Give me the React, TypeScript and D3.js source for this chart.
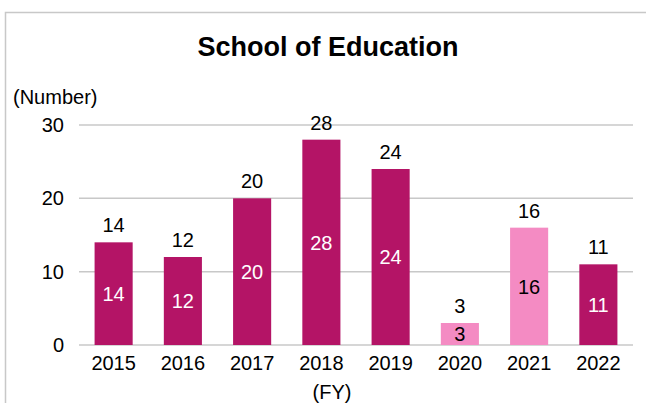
import React from "react";
import * as d3 from "d3";

const years = ["2015", "2016", "2017", "2018", "2019", "2020", "2021", "2022"];
const counts = [14, 12, 20, 28, 24, 3, 16, 11];
const highlight = [false, false, false, false, false, true, true, false];
const yTicks = [0, 10, 20, 30];

const W = 646;
const H = 403;
const FONT = "'Liberation Sans', Arial, sans-serif";
const DARK = "#B41466";
const LIGHT = "#F48BC3";

export default function App() {
  const x = d3.scaleBand<string>().domain(years).range([79, 633]).paddingInner(0.45).paddingOuter(0.225);
  const y = d3.scaleLinear().domain([0, 30]).range([345, 125]);
  const fs = 20;
  return (
    <svg width={W} height={H} style={{ position: "absolute", left: 0, top: 0, background: "#fff" }} fontFamily={FONT}>
      <rect x={5.5} y={12.5} width={W + 10} height={H + 10} fill="#fff" stroke="#C8C8C8" strokeWidth={1.5} />
      <text x={328} y={56} textAnchor="middle" fontSize={27} fontWeight="bold" fill="#000">
        School of Education
      </text>
      <text x={13} y={104} fontSize={fs} fill="#000">(Number)</text>
      {yTicks.map((t) => (
        <g key={t}>
          <line x1={79} x2={633} y1={y(t)} y2={y(t)} stroke="#C8C8C8" strokeWidth={1.5} />
          <text x={64} y={y(t)} dy="0.35em" textAnchor="end" fontSize={fs} fill="#000">{t}</text>
        </g>
      ))}
      {years.map((yr, i) => {
        const bx = x(yr)!;
        const bw = x.bandwidth();
        const top = y(counts[i]);
        const cx = bx + bw / 2;
        return (
          <g key={yr}>
            <rect x={bx} y={top} width={bw} height={y(0) - top} fill={highlight[i] ? LIGHT : DARK} />
            <text x={cx} y={top - 10} textAnchor="middle" fontSize={fs} fill="#000">{counts[i]}</text>
            <text x={cx} y={(top + y(0)) / 2} dy="0.36em" textAnchor="middle" fontSize={fs} fill={highlight[i] ? "#000" : "#fff"}>
              {counts[i]}
            </text>
            <text x={cx} y={370} textAnchor="middle" fontSize={fs} fill="#000">{yr}</text>
          </g>
        );
      })}
      <text x={332} y={399} textAnchor="middle" fontSize={fs} fill="#000">(FY)</text>
    </svg>
  );
}
